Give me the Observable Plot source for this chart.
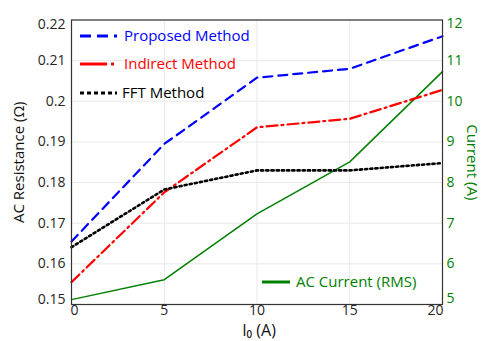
<!DOCTYPE html>
<html><head><meta charset="utf-8">
<script src="https://cdn.jsdelivr.net/npm/d3@7"></script>
<script src="https://cdn.jsdelivr.net/npm/@observablehq/plot@0.6"></script>
<style>body{margin:0;background:#fff;font-family:"Open Sans",sans-serif;}</style>
</head><body><div id="chart"></div>
<script>
const currentI0 = [0, 5, 10, 15, 20];
const proposed = [0.1655, 0.1895, 0.2058, 0.2080, 0.2160];
const indirect = [0.1555, 0.1776, 0.1936, 0.1957, 0.2028];
const fft = [0.1641, 0.1783, 0.1830, 0.1830, 0.1848];
const acCurrent = [5.12, 5.61, 7.23, 8.51, 10.73];
const xTicks = [0, 5, 10, 15, 20];
const rTicks = [0.15, 0.16, 0.17, 0.18, 0.19, 0.20, 0.21, 0.22];
const cTicks = [5, 6, 7, 8, 9, 10, 11, 12];

const rDomain = [0.15, 0.22];
const cDomain = [5, 12];
const toR = c => rDomain[0] + (c - cDomain[0]) * (rDomain[1] - rDomain[0]) / (cDomain[1] - cDomain[0]);
const toC = r => Math.round(cDomain[0] + (r - rDomain[0]) * (cDomain[1] - cDomain[0]) / (rDomain[1] - rDomain[0]));

const series = [
  {name: "Proposed Method", values: proposed, color: "#0000ff", dash: "9,6", width: 2.2},
  {name: "Indirect Method", values: indirect, color: "#ff0000", dash: "11,4,2,4", width: 2.2},
  {name: "FFT Method", values: fft, color: "#000000", dash: "2.2,3", width: 2.6}
];
const rows = s => currentI0.map((x, i) => ({x, y: s.values[i]}));
const currRows = currentI0.map((x, i) => ({x, c: acCurrent[i]}));

const legendMark = (index, scales, values, dims) => {
  const g = d3.create("svg:g").attr("font-family", "Open Sans, sans-serif").attr("font-size", 15)
    .attr("text-anchor", "start");
  const entries = [
    {s: series[0], y: 36, tx: 124, samp: "11,6"},
    {s: series[1], y: 64, tx: 124, samp: "27,4,3,4"},
    {s: series[2], y: 93, tx: 122, samp: "4,3"}
  ];
  for (const e of entries) {
    g.append("line").attr("x1", 80).attr("x2", 117).attr("y1", e.y).attr("y2", e.y)
      .attr("stroke", e.s.color).attr("stroke-width", 3).attr("stroke-dasharray", e.samp);
    g.append("text").attr("x", e.tx).attr("y", e.y).attr("dy", "0.35em").attr("text-anchor", "start")
      .attr("fill", e.s.color).text(e.s.name);
  }
  g.append("line").attr("x1", 262).attr("x2", 290).attr("y1", 282).attr("y2", 282)
    .attr("stroke", "#008000").attr("stroke-width", 3);
  g.append("text").attr("x", 296).attr("y", 282).attr("dy", "0.35em").attr("text-anchor", "start")
    .attr("fill", "#008000").text("AC Current (RMS)");
  return g.node();
};

const rFmt = d => String(+d.toFixed(2));
const xOpts = {tickSize: 0, tickPadding: 1, label: null, fontSize: 14, fill: "#262626"};
const leftOpts = {anchor: "left", tickSize: 0, tickPadding: 6, label: null, fontSize: 14, fill: "#262626", tickFormat: rFmt};
const rightOpts = {anchor: "right", tickSize: 0, tickPadding: 4, label: null, fontSize: 14, fill: "#008000", tickFormat: toC};
const rMid = rTicks.slice(1, -1);
const cR = cTicks.map(toR);
const cMid = cR.slice(1, -1);
const xMid = xTicks.slice(1, -1);

const plot = Plot.plot({
  width: 483, height: 341,
  marginLeft: 71, marginRight: 41, marginTop: 19.5, marginBottom: 37,
  style: {fontFamily: "Open Sans, sans-serif", fontSize: "14px", color: "#262626", background: "#fff"},
  x: {domain: [0, 20]},
  y: {domain: rDomain},
  marks: [
    Plot.gridX(xTicks, {stroke: "#e8e8e8", strokeOpacity: 1}),
    Plot.gridY(rTicks, {stroke: "#e8e8e8", strokeOpacity: 1}),
    Plot.axisX(xMid, xOpts),
    Plot.axisX([xTicks[0]], {...xOpts, dx: 3}),
    Plot.axisX([xTicks[xTicks.length - 1]], {...xOpts, dx: -7}),
    Plot.axisY(rMid, leftOpts),
    Plot.axisY([rTicks[0]], {...leftOpts, dy: -5}),
    Plot.axisY([rTicks[rTicks.length - 1]], {...leftOpts, dy: 5}),
    Plot.axisY(cMid, rightOpts),
    Plot.axisY([cR[0]], {...rightOpts, dy: -6}),
    Plot.axisY([cR[cR.length - 1]], {...rightOpts, dy: 4}),
    Plot.line(currRows, {x: "x", y: d => toR(d.c), stroke: "#008000", strokeWidth: 1.5}),
    ...series.map(s => Plot.line(rows(s), {x: "x", y: "y", stroke: s.color, strokeWidth: s.width, strokeDasharray: s.dash})),
    Plot.frame({stroke: "#333", strokeWidth: 1.2}),
    Plot.text(["AC Resistance (Ω)"], {frameAnchor: "left", textAnchor: "middle", rotate: -90, dx: -52, fontSize: 15, fill: "#111"}),
    Plot.text(["Current (A)"], {frameAnchor: "right", textAnchor: "middle", rotate: 90, dx: 29, fontSize: 15, fill: "#008000"}),
    Plot.text(["I₀ (A)"], {frameAnchor: "bottom", dx: 2, dy: 31, fontSize: 16, fill: "#111"}),
    legendMark
  ]
});
document.getElementById("chart").appendChild(plot);
</script></body></html>
